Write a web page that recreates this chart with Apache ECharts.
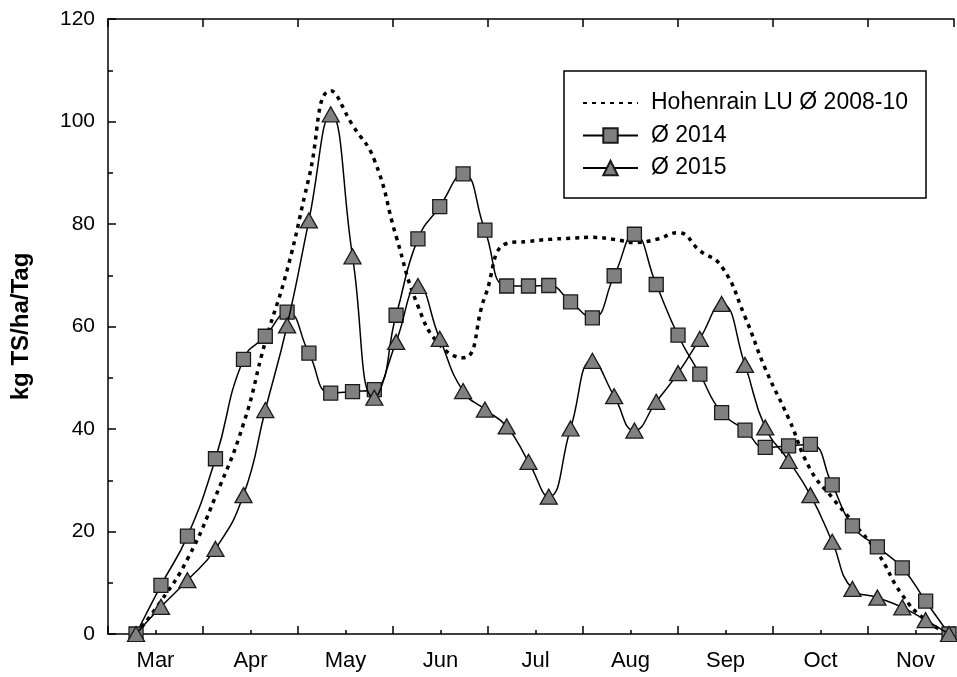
<!DOCTYPE html>
<html>
<head>
<meta charset="utf-8">
<script src="https://cdn.jsdelivr.net/npm/echarts@6/dist/echarts.min.js"></script>
<style>
html,body{margin:0;padding:0;background:#fff;}
#chart{width:957px;height:677px;}
</style>
</head>
<body>
<div id="chart"></div>
<script>
// Days counted from 1 March (x positions of the weekly measurements)
const days = [9, 17, 25.5, 34.5, 43.5, 50.5, 57.5, 64.5, 71.5, 78.5, 85.5, 92.5, 99.5, 106.5, 114, 121, 128, 135, 141.5, 148.5, 155.5, 162.5, 169, 176, 183, 190, 197, 204.5, 211, 218.5, 225.5, 232.5, 239, 247, 255, 262.5, 270];
const hohenrain = [0, 6.4, 14.6, 26.8, 41, 57, 71, 89, 106, 99.3, 92.5, 77.6, 64, 56.4, 53.9, 65.8, 76.2, 76.6, 77, 77.2, 77.4, 77, 76.4, 77, 78.3, 74.8, 71.7, 61.9, 51.8, 42.1, 32.1, 26.6, 21.9, 15.9, 7.6, 2.7, 0];
const y2014 = [0, 9.5, 19.1, 34.2, 53.6, 58.1, 62.8, 54.8, 47.0, 47.3, 47.7, 62.2, 77.1, 83.4, 89.8, 78.8, 67.9, 67.9, 68.0, 64.8, 61.7, 69.9, 78.0, 68.2, 58.3, 50.7, 43.2, 39.8, 36.4, 36.7, 37.0, 29.1, 21.1, 17.0, 12.9, 6.4, 0];
const y2015 = [0, 5.3, 10.5, 16.6, 27.1, 43.7, 60.2, 80.7, 101.4, 73.7, 46.1, 57.0, 67.9, 57.6, 47.4, 43.8, 40.5, 33.6, 26.8, 40.1, 53.3, 46.4, 39.7, 45.3, 50.9, 57.6, 64.4, 52.5, 40.3, 33.8, 27.1, 18.0, 8.8, 7.1, 5.2, 2.7, 0];
const months = ['Mar', 'Apr', 'May', 'Jun', 'Jul', 'Aug', 'Sep', 'Oct', 'Nov'];
const seriesNames = ['Hohenrain LU Ø 2008-10', 'Ø 2014', 'Ø 2015'];
const yTitle = 'kg TS/ha/Tag';

const MONTH = 30.5;
const XMAX = 271.6; // visible part of the 9-month axis (chart is cut at the right edge)
const FONT = '"Liberation Sans", Arial, sans-serif';
const pair = (xs, ys) => xs.map((x, i) => [x, ys[i]]);

const chart = echarts.init(document.getElementById('chart'), null, {renderer: 'canvas'});
const axisLine = {show: true, lineStyle: {color: '#000', width: 1.5}};
const option = {
  backgroundColor: '#fff',
  animation: false,
  grid: {left: 108, top: 19, right: 0, bottom: 43, containLabel: false},
  legend: {
    orient: 'vertical',
    left: 564, top: 71,
    data: [
      {name: seriesNames[0], itemStyle: {color: 'rgba(0,0,0,0)', borderColor: 'rgba(0,0,0,0)', borderWidth: 0, opacity: 0}},
      {name: seriesNames[1]},
      {name: seriesNames[2]}
    ],
    itemWidth: 55, itemHeight: 18, itemGap: 9.5,
    padding: [20.5, 18, 18.5, 18],
    borderColor: '#000', borderWidth: 1.5, borderRadius: 0,
    backgroundColor: '#fff',
    textStyle: {fontSize: 23, color: '#000', fontFamily: FONT, padding: [0, 0, 0, 8]}
  },
  xAxis: [
    {
      type: 'value', position: 'bottom', min: 0, max: XMAX, interval: MONTH,
      axisLine: axisLine,
      axisTick: {show: true, inside: true, length: 8, lineStyle: {color: '#000', width: 1.5}},
      minorTick: {show: true, splitNumber: 2, length: 4, lineStyle: {color: '#000', width: 1.5}},
      axisLabel: {show: false}, splitLine: {show: false}
    },
    {
      type: 'value', position: 'bottom', min: 0, max: XMAX, interval: MONTH / 2,
      axisLine: {show: false}, axisTick: {show: false}, splitLine: {show: false},
      axisLabel: {
        show: true, fontSize: 22, color: '#000', fontFamily: FONT, margin: 16,
        showMinLabel: true, showMaxLabel: true,
        formatter: v => { const k = Math.round(v / (MONTH / 2)); return (k % 2 === 1 && Math.abs(v - k * MONTH / 2) < 0.5) ? months[(k - 1) / 2] : ''; }
      }
    },
    {
      type: 'value', position: 'top', min: 0, max: XMAX, interval: MONTH,
      axisLine: axisLine,
      axisTick: {show: true, inside: true, length: 8, lineStyle: {color: '#000', width: 1.5}},
      axisLabel: {show: false}, splitLine: {show: false}
    }
  ],
  yAxis: [
    {
      type: 'value', min: 0, max: 120, interval: 20, position: 'left',
      axisLine: axisLine,
      axisTick: {show: true, inside: true, length: 8, lineStyle: {color: '#000', width: 1.5}},
      minorTick: {show: true, splitNumber: 2, length: 5, lineStyle: {color: '#000', width: 1.5}},
      axisLabel: {fontSize: 21, color: '#000', fontFamily: FONT, margin: 13},
      splitLine: {show: false},
      name: yTitle, nameLocation: 'middle', nameRotate: 90, nameGap: 75,
      nameTextStyle: {fontSize: 24, fontWeight: 'bold', color: '#000', fontFamily: FONT}
    }
  ],
  series: [
    {
      name: seriesNames[0], type: 'line', xAxisIndex: 0, yAxisIndex: 0,
      data: pair(days, hohenrain), smooth: 0.5, symbol: 'none', showSymbol: false,
      lineStyle: {color: '#000', width: 3.5, type: [4, 5]},
      itemStyle: {color: '#000'}, z: 2
    },
    {
      name: seriesNames[1], type: 'line', xAxisIndex: 0, yAxisIndex: 0,
      data: pair(days, y2014), smooth: 0.5, symbol: 'rect', symbolSize: 14,
      lineStyle: {color: '#000', width: 1.5},
      itemStyle: {color: '#808080', borderColor: '#1a1a1a', borderWidth: 1.3}, z: 3
    },
    {
      name: seriesNames[2], type: 'line', xAxisIndex: 0, yAxisIndex: 0,
      data: pair(days, y2015), smooth: 0.5, symbol: 'triangle', symbolSize: [17, 15],
      lineStyle: {color: '#000', width: 1.5},
      itemStyle: {color: '#808080', borderColor: '#1a1a1a', borderWidth: 1.3}, z: 4
    }
  ]
};
chart.setOption(option);
</script>
</body>
</html>
